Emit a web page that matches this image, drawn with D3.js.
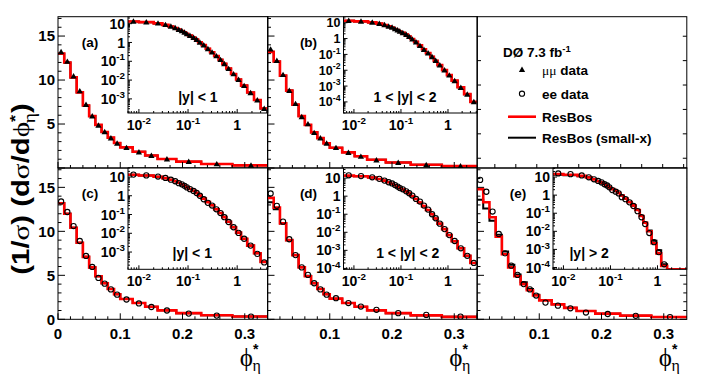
<!DOCTYPE html>
<html>
<head>
<meta charset="utf-8">
<script src="https://cdn.jsdelivr.net/npm/d3@7/dist/d3.min.js"></script>
<style>
  body { margin: 0; background: #fff; }
  svg { display: block; font-family: "Liberation Sans", Arial, sans-serif; font-weight: bold; }
  .greek { font-family: "Liberation Serif", "DejaVu Serif", serif; font-weight: normal; }
</style>
</head>
<body>
<div class="chart"></div>
<script>
//phi*_eta bin edges, shared by every panel
var binEdges = [0, 0.01, 0.02, 0.03, 0.04, 0.05, 0.06, 0.07, 0.08, 0.09, 0.1, 0.12, 0.14, 0.16, 0.19, 0.23, 0.28, 0.34,
    0.42, 0.5, 0.6, 0.75, 0.95, 1.2, 1.6, 2.2, 3.0, 4.2];

//(a) mu mu, |y| < 1
var muDataA = [13.2, 12.1, 10.45, 8.75, 7.2, 5.9, 4.85, 4.1, 3.4, 2.8, 2.3, 1.8, 1.4, 1.0, 0.72, 0.45, 0.3,
    0.19, 0.12, 0.072, 0.04, 0.021, 0.0105, 0.005, 0.0021, 0.00085, 0.0003];
var resbosA = [13.0, 12.0, 10.3, 8.6, 7.1, 5.9, 4.9, 4.1, 3.45, 2.85, 2.35, 1.85, 1.42, 1.02, 0.72, 0.46, 0.3,
    0.19, 0.12, 0.073, 0.041, 0.021, 0.0108, 0.0051, 0.0022, 0.00088, 0.00031];

//(b) mu mu, 1 < |y| < 2
var muDataB = [13.5, 12.2, 10.6, 8.8, 7.3, 5.8, 5.0, 4.0, 3.4, 2.8, 2.3, 1.75, 1.3, 0.9, 0.6, 0.35, 0.2,
    0.12, 0.07, 0.04, 0.021, 0.01, 0.0048, 0.0021, 0.0008, 0.0003, 0.0001];
var resbosB = [13.2, 12.1, 10.5, 8.8, 7.2, 5.9, 4.9, 4.05, 3.4, 2.8, 2.3, 1.78, 1.33, 0.93, 0.62, 0.37, 0.21,
    0.12, 0.07, 0.04, 0.021, 0.0102, 0.0049, 0.0022, 0.00085, 0.00031, 0.0001];

//(c) ee, |y| < 1
var eeDataC = [13.4, 12.2, 10.6, 8.9, 7.2, 5.95, 4.7, 4.05, 3.4, 2.8, 2.25, 1.8, 1.4, 1.0, 0.65, 0.42, 0.3,
    0.19, 0.12, 0.072, 0.04, 0.021, 0.0105, 0.0051, 0.0022, 0.0008, 0.00028];
var resbosC = [13.2, 12.0, 10.4, 8.7, 7.1, 5.9, 4.9, 4.1, 3.45, 2.85, 2.3, 1.85, 1.42, 1.02, 0.7, 0.46, 0.31,
    0.19, 0.12, 0.073, 0.041, 0.021, 0.0108, 0.0051, 0.0022, 0.00086, 0.0003];

//(d) ee, 1 < |y| < 2
var eeDataD = [14.3, 12.9, 11.1, 9.1, 7.3, 5.9, 5.05, 4.1, 3.4, 2.8, 2.4, 1.85, 1.45, 1.08, 0.7, 0.5, 0.3,
    0.18, 0.1, 0.06, 0.03, 0.015, 0.007, 0.0033, 0.0013, 0.0005, 0.0002];
var resbosD = [13.8, 12.7, 10.9, 9.0, 7.3, 5.9, 4.9, 4.1, 3.45, 2.85, 2.35, 1.85, 1.42, 1.02, 0.7, 0.45, 0.28,
    0.17, 0.1, 0.058, 0.03, 0.015, 0.007, 0.0032, 0.0013, 0.0005, 0.0002];
var smallxD = [13.3, 12.5, 10.9, 9.0, 7.3, 5.95, 4.95, 4.1, 3.45, 2.85, 2.35, 1.85, 1.42, 1.02, 0.7, 0.45, 0.28,
    0.17, 0.1, 0.058, 0.03, 0.015, 0.007, 0.0032, 0.0013, 0.0005, 0.0002];

//(e) ee, |y| > 2 (no events in the last bins)
var eeDataE = [15.85, 14.5, 12.25, 9.7, 7.5, 6.1, 5.05, 4.0, 3.4, 2.7, 1.9, 1.55, 1.25, 0.77, 0.6, 0.4, 0.25,
    0.13, 0.06, 0.025, 0.008, 0.0025, 0.0007, 0.00015, null, null, null];
var resbosE = [14.8, 13.3, 11.6, 9.4, 7.4, 5.9, 4.9, 4.0, 3.3, 2.7, 2.15, 1.7, 1.3, 0.95, 0.65, 0.42, 0.27,
    0.15, 0.07, 0.03, 0.01, 0.0022, 0.0006, 0.00012, 0, 0, 0];
var smallxE = [13.6, 12.6, 11.2, 9.6, 7.7, 6.2, 5.1, 4.2, 3.45, 2.8, 2.2, 1.72, 1.3, 0.95, 0.64, 0.41, 0.26,
    0.15, 0.07, 0.03, 0.011, 0.003, 0.0009, 0.00015, 0, 0, 0];

//tick values and texts
var mainXTicks = [0, 0.1, 0.2, 0.3];
var mainXLabels = ["0", "0.1", "0.2", "0.3"];
var mainYTicks = [0, 5, 10, 15];
var mainYLabels = ["0", "5", "10", "15"];
var insetXTicks = [0.01, 0.1, 1];
var panelNames = ["(a)", "(b)", "(c)", "(d)", "(e)"];
var rapidityNames = ["|y| < 1", "1 < |y| < 2", "|y| < 1", "1 < |y| < 2", "|y| > 2"];
var legendNames = ["μμ data", "ee data", "ResBos", "ResBos (small-x)"];

//frame layout
var width = 708, height = 374;
var colX = [58, 267.5, 477], rowY = [16.7, 168];
var panelW = 209.8, panelH = 151.3;
var xMax = 0.337, yMax = 17.2;
var insetLeft = [70, 76, 76], insetBottom = [113, 269.3];
var insetXDomain = [0.006, 4.2];
var nameX = [32, 41, 41];

var svg = d3.select("div.chart")
    .append("svg")
    .attr("width", width)
    .attr("height", height);

//small-x curve sits under ResBos for (a)-(c)
var panels = [
    {col: 0, row: 0, data: muDataA, resbos: resbosA, smallx: resbosA, marker: "tri", logY: [-3.75, 1.37], lab: [0.5, 0.83], fs: 14},
    {col: 1, row: 0, data: muDataB, resbos: resbosB, smallx: resbosB, marker: "tri", logY: [-4.7, 1.38], lab: [0.46, 0.83], fs: 12.5},
    {col: 0, row: 1, data: eeDataC, resbos: resbosC, smallx: resbosC, marker: "circ", logY: [-3.92, 1.48], lab: [0.46, 0.84], fs: 14},
    {col: 1, row: 1, data: eeDataD, resbos: resbosD, smallx: smallxD, marker: "circ", logY: [-4.05, 1.56], lab: [0.48, 0.84], fs: 14},
    {col: 2, row: 1, data: eeDataE, resbos: resbosE, smallx: smallxE, marker: "circ", logY: [-4.1, 1.5], lab: [0.27, 0.84], fs: 14}
];

panels.forEach(function(p, i){ drawPanel(p, i); });
drawLegend();
drawTitles();

//histogram outline as step points
function stepPoints(vals, xLow, yLow){
    var pts = vals.map(function(v, i){
        return [Math.max(binEdges[i], xLow), Math.max(v, yLow)];
    });
    pts.push([binEdges[vals.length], pts[pts.length - 1][1]]);
    return pts;
};

function addMarkers(g, vals, type, xPos, y, yLow){
    vals.forEach(function(v, i){
        if (v === null || v < yLow) return;
        var cx = xPos(i), cy = y(v);
        if (type == "tri") {
            g.append("path")
                .attr("d", d3.symbol(d3.symbolTriangle, 17)())
                .attr("transform", "translate(" + cx + "," + (cy + 0.5) + ")")
                .attr("fill", "#000");
        } else {
            g.append("circle")
                .attr("cx", cx).attr("cy", cy).attr("r", 2.6)
                .attr("fill", "none").attr("stroke", "#000").attr("stroke-width", 1.1);
        };
    });
};

function tick(x1, y1, x2, y2){
    svg.append("line")
        .attr("x1", x1).attr("y1", y1).attr("x2", x2).attr("y2", y2)
        .attr("stroke", "#000").attr("stroke-width", 1);
};

//write 10^n with a raised exponent
function powText(sel, v, fs){
    var e = Math.round(Math.log10(v));
    if (e == 0) { sel.text("1"); return; }
    if (e == 1) { sel.text("10"); return; }
    sel.append("tspan").text("10");
    sel.append("tspan").attr("dy", -fs * 0.42).style("font-size", (fs * 0.7) + "px").text(e);
};

function drawPanel(p, idx){
    var x0 = colX[p.col], y0 = rowY[p.row];
    var x = d3.scaleLinear().domain([0, xMax]).range([x0, x0 + panelW]);
    var y = d3.scaleLinear().domain([0, yMax]).range([y0 + panelH, y0]);

    svg.append("clipPath").attr("id", "clip" + idx)
        .append("rect").attr("x", x0).attr("y", y0).attr("width", panelW).attr("height", panelH);
    var plot = svg.append("g").attr("clip-path", "url(#clip" + idx + ")");

    var line = d3.line()
        .x(function(d){ return x(d[0]); })
        .y(function(d){ return y(d[1]); })
        .curve(d3.curveStepAfter);

    plot.append("path").datum(stepPoints(p.smallx, 0, 0))
        .attr("d", line).attr("fill", "none").attr("stroke", "#000").attr("stroke-width", 2);
    plot.append("path").datum(stepPoints(p.resbos, 0, 0))
        .attr("d", line).attr("fill", "none").attr("stroke", "#f00").attr("stroke-width", 2.6);

    addMarkers(plot, p.data, p.marker, function(i){
        return x((binEdges[i] + binEdges[i + 1]) / 2);
    }, y, 0);

    //y ticks: minor every 1, major every 5
    y.ticks(17).forEach(function(t){
        var len = (t % 5 === 0) ? 7 : 3.5;
        tick(x0, y(t), x0 + len, y(t));
        if (p.col == 2) tick(x0 + panelW, y(t), x0 + panelW - len, y(t));
    });
    //x ticks: minor every 0.02, major every 0.1
    x.ticks(17).forEach(function(t){
        var major = Math.abs(t * 10 - Math.round(t * 10)) < 1e-6;
        tick(x(t), y0 + panelH, x(t), y0 + panelH - (major ? 6 : 3));
    });

    //tick labels
    mainYTicks.forEach(function(t, i){
        if (p.row == 0 && t == 0) return;
        if (p.col > 0) return;
        svg.append("text").attr("x", x0 - 3).attr("y", y(t)).attr("dy", "0.36em")
            .attr("text-anchor", "end").style("font-size", "15px").text(mainYLabels[i]);
    });
    if (p.row == 1) {
        mainXTicks.forEach(function(t, i){
            if (p.col > 0 && t == 0) return;
            svg.append("text").attr("x", x(t)).attr("y", y0 + panelH + 20)
                .attr("text-anchor", "middle").style("font-size", "15px").text(mainXLabels[i]);
        });
    };

    svg.append("rect").attr("x", x0).attr("y", y0).attr("width", panelW).attr("height", panelH)
        .attr("fill", "none").attr("stroke", "#000").attr("stroke-width", 1);

    drawInset(p, idx, x0, y0);

    svg.append("text").attr("x", x0 + nameX[p.col]).attr("y", y0 + 30)
        .attr("text-anchor", "middle").style("font-size", "13.5px").text(panelNames[idx]);
};

function drawInset(p, idx, x0, y0){
    var left = x0 + insetLeft[p.col], right = x0 + panelW,
        top = y0, bottom = insetBottom[p.row];
    var yLow = Math.pow(10, p.logY[0]);
    var ix = d3.scaleLog().domain(insetXDomain).range([left, right]);
    var iy = d3.scaleLog().domain([yLow, Math.pow(10, p.logY[1])]).range([bottom, top]);

    svg.append("rect").attr("x", left).attr("y", top).attr("width", right - left).attr("height", bottom - top)
        .attr("fill", "#fff");

    svg.append("clipPath").attr("id", "iclip" + idx)
        .append("rect").attr("x", left).attr("y", top).attr("width", right - left).attr("height", bottom - top);
    var plot = svg.append("g").attr("clip-path", "url(#iclip" + idx + ")");

    var line = d3.line()
        .x(function(d){ return ix(d[0]); })
        .y(function(d){ return iy(d[1]); })
        .curve(d3.curveStepAfter);

    plot.append("path").datum(stepPoints(p.smallx, insetXDomain[0], yLow))
        .attr("d", line).attr("fill", "none").attr("stroke", "#000").attr("stroke-width", 2);
    plot.append("path").datum(stepPoints(p.resbos, insetXDomain[0], yLow))
        .attr("d", line).attr("fill", "none").attr("stroke", "#f00").attr("stroke-width", 2.6);

    addMarkers(plot, p.data, p.marker, function(i){
        return ix(Math.sqrt(Math.max(binEdges[i], insetXDomain[0]) * binEdges[i + 1]));
    }, iy, yLow);

    //log ticks
    var e, k, v;
    for (e = -3; e <= 0; e++) {
        for (k = 1; k <= 9; k++) {
            v = k * Math.pow(10, e);
            if (v < insetXDomain[0] || v > insetXDomain[1]) continue;
            tick(ix(v), bottom, ix(v), bottom - (k == 1 ? 4 : 2));
        };
    };
    for (e = Math.floor(p.logY[0]); e <= Math.ceil(p.logY[1]); e++) {
        for (k = 1; k <= 9; k++) {
            v = k * Math.pow(10, e);
            if (v < yLow || v > iy.domain()[1]) continue;
            tick(left, iy(v), left + (k == 1 ? 4 : 2), iy(v));
        };
    };

    svg.append("rect").attr("x", left).attr("y", top).attr("width", right - left).attr("height", bottom - top)
        .attr("fill", "none").attr("stroke", "#000").attr("stroke-width", 1);

    //labels
    insetXTicks.forEach(function(t){
        var txt = svg.append("text").attr("x", ix(t)).attr("y", bottom + 17)
            .attr("text-anchor", "middle").style("font-size", "14px");
        powText(txt, t, 14);
    });
    for (e = Math.ceil(p.logY[0]); e <= Math.floor(p.logY[1]); e++) {
        var txt = svg.append("text").attr("x", left - 3).attr("y", iy(Math.pow(10, e)) + p.fs * 0.36)
            .attr("text-anchor", "end").style("font-size", p.fs + "px");
        powText(txt, Math.pow(10, e), p.fs);
    };

    svg.append("text")
        .attr("x", left + p.lab[0] * (right - left))
        .attr("y", top + p.lab[1] * (bottom - top) + 5)
        .attr("text-anchor", "middle").style("font-size", "14px")
        .text(rapidityNames[idx]);
};

function drawLegend(){
    var x0 = colX[2], y0 = rowY[0];
    var lx = d3.scaleLinear().domain([-0.085, 0.915]).range([x0, x0 + panelW]);
    var ly = d3.scaleLinear().domain([-0.4, 5.8]).range([y0 + panelH, y0]);

    ly.ticks(6).forEach(function(t){
        tick(x0, ly(t), x0 + 4, ly(t));
        tick(x0 + panelW, ly(t), x0 + panelW - 4, ly(t));
    });
    lx.ticks(10).forEach(function(t){
        tick(lx(t), y0 + panelH, lx(t), y0 + panelH - 4);
    });
    svg.append("rect").attr("x", x0).attr("y", y0).attr("width", panelW).attr("height", panelH)
        .attr("fill", "none").attr("stroke", "#000").attr("stroke-width", 1);

    var head = svg.append("text").attr("x", x0 + 26).attr("y", y0 + 40).style("font-size", "13.5px");
    head.append("tspan").text("DØ 7.3 fb");
    head.append("tspan").attr("dy", -5).style("font-size", "9.5px").text("-1");

    var rows = [y0 + 53, y0 + 77, y0 + 100, y0 + 121];
    svg.append("path").attr("d", d3.symbol(d3.symbolTriangle, 17)())
        .attr("transform", "translate(" + (x0 + 45) + "," + (rows[0] + 0.5) + ")").attr("fill", "#000");
    svg.append("circle").attr("cx", x0 + 45).attr("cy", rows[1]).attr("r", 2.6)
        .attr("fill", "none").attr("stroke", "#000").attr("stroke-width", 1.1);
    svg.append("line").attr("x1", x0 + 31).attr("x2", x0 + 59).attr("y1", rows[2]).attr("y2", rows[2])
        .attr("stroke", "#f00").attr("stroke-width", 2.6);
    svg.append("line").attr("x1", x0 + 31).attr("x2", x0 + 59).attr("y1", rows[3]).attr("y2", rows[3])
        .attr("stroke", "#000").attr("stroke-width", 2);

    legendNames.forEach(function(name, i){
        var t = svg.append("text").attr("x", x0 + 65).attr("y", rows[i] + 5).style("font-size", "13.5px");
        if (i == 0) {
            t.append("tspan").attr("class", "greek").text("μμ");
            t.append("tspan").text(" data");
        } else {
            t.text(name);
        };
    });
};

function drawTitles(){
    //y axis title, stretched along its length like the original
    var yt = svg.append("text")
        .attr("transform", "translate(29,189) rotate(-90) scale(1.22,1)")
        .attr("text-anchor", "middle")
        .style("font-size", "24px");
    yt.append("tspan").text("(1/");
    yt.append("tspan").attr("class", "greek").text("σ");
    yt.append("tspan").text(") (d");
    yt.append("tspan").attr("class", "greek").text("σ");
    yt.append("tspan").text("/d");
    yt.append("tspan").attr("class", "greek").text("ϕ");
    yt.append("tspan").attr("dy", -9).style("font-size", "15px").text("*");
    yt.append("tspan").attr("class", "greek").attr("dx", -7).attr("dy", 15).style("font-size", "16px").text("η");
    yt.append("tspan").attr("dy", -6).text(")");

    //x axis titles under each bottom panel
    [0, 1, 2].forEach(function(c){
        var xt = svg.append("text")
            .attr("x", colX[c] + panelW - 28).attr("y", 366)
            .style("font-size", "25px");
        xt.append("tspan").attr("class", "greek").text("ϕ");
        xt.append("tspan").attr("dy", -12).style("font-size", "14px").text("*");
        xt.append("tspan").attr("class", "greek").attr("dx", -6).attr("dy", 17).style("font-size", "16px").text("η");
    });
};
</script>
</body>
</html>
